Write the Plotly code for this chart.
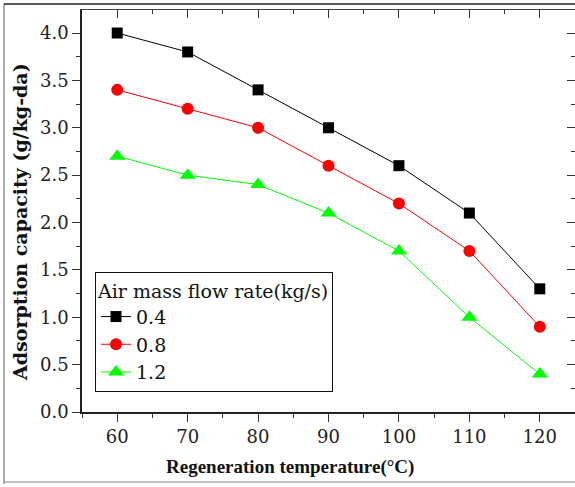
import plotly.graph_objects as go

temps = [60, 70, 80, 90, 100, 110, 120]
flow_labels = ["0.4", "0.8", "1.2"]
cap_04 = [4.0, 3.8, 3.4, 3.0, 2.6, 2.1, 1.3]
cap_08 = [3.4, 3.2, 3.0, 2.6, 2.2, 1.7, 0.9]
cap_12 = [2.7, 2.5, 2.4, 2.1, 1.7, 1.0, 0.4]
y_ticks = [0, 0.5, 1.0, 1.5, 2.0, 2.5, 3.0, 3.5, 4.0]
y_ticktext = ["0.0", "0.5", "1.0", "1.5", "2.0", "2.5", "3.0", "3.5", "4.0"]

series = [
    (flow_labels[0], cap_04, "#000000", "square", 11),
    (flow_labels[1], cap_08, "#FF0000", "circle", 12),
    (flow_labels[2], cap_12, "#00FF00", "triangle-up", 14),
]

W, H = 575, 487
L, R, T, B = 82, 0, 10, 75
serif = "Liberation Serif"
wide = "DejaVu Serif"

fig = go.Figure()
for name, vals, col, sym, sz in series:
    fig.add_trace(go.Scatter(
        x=temps, y=vals, name=name, mode="lines+markers",
        line=dict(color=col, width=1),
        marker=dict(symbol=sym, size=sz, color=col),
    ))

# dummy trace so the mirrored (inside-tick) axes are drawn
fig.add_trace(go.Scatter(x=[None], y=[None], xaxis="x2", yaxis="y2",
                         showlegend=False, hoverinfo="skip", mode="lines"))

xr = [55, 125]
yr = [0, 4.243]

fig.update_layout(
    width=W, height=H,
    margin=dict(l=L, r=R, t=T, b=B),
    paper_bgcolor="white", plot_bgcolor="white",
    font=dict(family=wide, size=17, color="#222222"),
    xaxis=dict(range=xr, tickvals=temps,
               ticks="outside", ticklen=8, tickwidth=1.2, tickcolor="#333",
               showline=True, linecolor="#222", linewidth=1.5,
               showgrid=False, zeroline=False,
               minor=dict(ticks="outside", dtick=5, tick0=55, ticklen=4, tickcolor="#333"),
               tickfont=dict(family=wide, size=18, color="#222")),
    yaxis=dict(range=yr, tickvals=y_ticks, ticktext=y_ticktext,
               ticks="outside", ticklen=8, tickwidth=1.2, tickcolor="#333",
               showline=True, linecolor="#222", linewidth=1.5,
               showgrid=False, zeroline=False,
               minor=dict(ticks="outside", dtick=0.25, tick0=0, ticklen=4, tickcolor="#333"),
               tickfont=dict(family=wide, size=18, color="#222")),
    xaxis2=dict(range=xr, overlaying="x", side="top", anchor="y2",
                tickvals=temps,
                ticks="inside", ticklen=8, tickwidth=1.2, tickcolor="#333",
                showticklabels=False, showline=True, linecolor="#444", linewidth=1.2,
                showgrid=False, zeroline=False,
                minor=dict(ticks="inside", dtick=5, tick0=55, ticklen=4, tickcolor="#333")),
    yaxis2=dict(range=yr, overlaying="y", side="right", anchor="x2",
                tickvals=y_ticks,
                ticks="inside", ticklen=8, tickwidth=1.2, tickcolor="#333",
                showticklabels=False, showline=True, linecolor="#444", linewidth=1.2,
                showgrid=False, zeroline=False,
                minor=dict(ticks="inside", dtick=0.25, tick0=0, ticklen=4, tickcolor="#333")),
    legend=dict(
        title=dict(text="Air mass flow rate(kg/s)", font=dict(family=wide, size=19, color="#111")),
        x=(95 - L) / (W - L), y=(H - B - 272) / (H - B - T),
        xanchor="left", yanchor="top",
        bgcolor="white", bordercolor="#111", borderwidth=1,
        font=dict(family=wide, size=19, color="#111"),
        tracegroupgap=0, itemsizing="trace",
    ),
    showlegend=True,
)

pw = W - L - R
ph = H - T - B
def px(x):
    return (x - L) / pw
def py(y):
    return (H - B - y) / ph

# outer border of the figure
fig.add_shape(type="line", xref="paper", yref="paper",
              x0=px(4), x1=px(4), y0=py(4), y1=py(484),
              line=dict(color="#777", width=1.2))
fig.add_shape(type="line", xref="paper", yref="paper",
              x0=px(4), x1=px(580), y0=py(4), y1=py(4),
              line=dict(color="#222", width=1.5))
fig.add_shape(type="line", xref="paper", yref="paper",
              x0=px(4), x1=px(580), y0=py(482), y1=py(482),
              line=dict(color="#888", width=1.2))

fig.add_annotation(text="<b>Regeneration temperature(°C)</b>", xref="paper", yref="paper",
                   x=px(290), y=py(467), xanchor="center", yanchor="middle", showarrow=False,
                   font=dict(family=serif, size=19, color="#111"))
fig.add_annotation(text="<b>Adsorption capacity (g/kg-da)</b>", xref="paper", yref="paper",
                   x=px(20), y=py(222), xanchor="center", yanchor="middle", showarrow=False, textangle=-90,
                   font=dict(family=wide, size=19, color="#111"))

fig.write_html("out.html")
